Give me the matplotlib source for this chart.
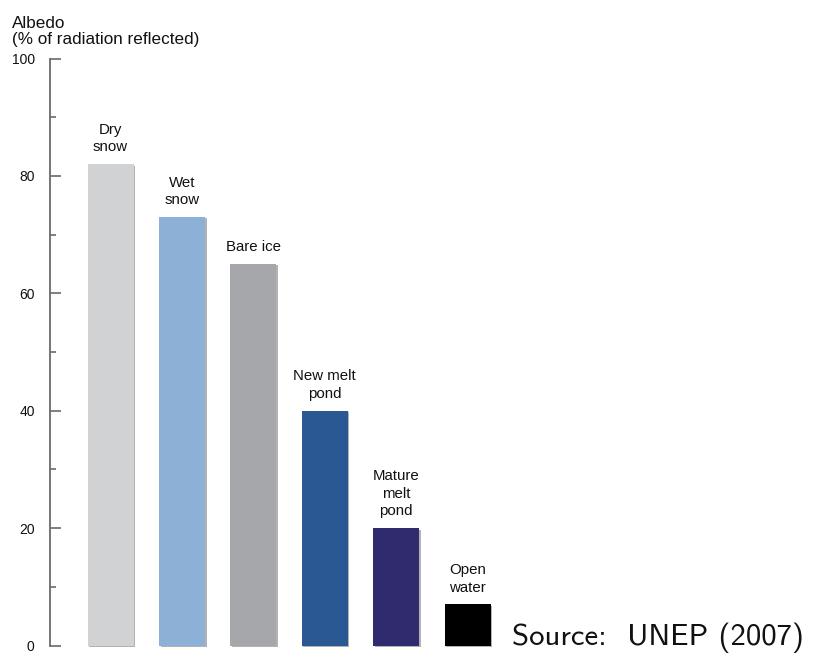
import matplotlib
matplotlib.use("Agg")
import matplotlib.pyplot as plt
from matplotlib.ticker import MultipleLocator

# Surface types and their albedo (% of radiation reflected)
surfaces = ["Dry\nsnow", "Wet\nsnow", "Bare ice", "New melt\npond", "Mature\nmelt\npond", "Open\nwater"]
albedo = [82, 73, 65, 40, 20, 7]
colors = ["#d1d2d4", "#8cb0d6", "#a6a7ab", "#2a5892", "#302a6e", "#000000"]
y_ticks = [0, 20, 40, 60, 80, 100]

W, H = 814, 654
fig = plt.figure(figsize=(W / 100, H / 100), dpi=100)

# axes box in pixel terms: left spine at x=50, y from 645.5 (0) to 58.5 (100)
left_px, right_px = 50, 814
bottom_px, top_px = 645.5, 58.5
ax = fig.add_axes([left_px / W, 1 - bottom_px / H,
                   (right_px - left_px) / W, (bottom_px - top_px) / H])

step = 71.4
first_center = 110.5
ax.set_xlim((left_px - first_center) / step, (right_px - first_center) / step)
ax.set_ylim(0, 100)

xs = list(range(len(albedo)))
bw = 46 / step
# soft shadow on right/bottom edges
ax.bar([x + 0.025 for x in xs], albedo, width=bw, bottom=-0.25, color="#555555",
       alpha=0.45, zorder=1, clip_on=False)
ax.bar(xs, albedo, width=bw, color=colors, zorder=2)

label_font = ["Liberation Sans", "DejaVu Sans"]
for x, v, name in zip(xs, albedo, surfaces):
    ax.annotate(name, (x, v), xytext=(0, 7), textcoords="offset points",
                ha="center", va="bottom", fontsize=10.8, linespacing=1.32,
                family=label_font, color="#111111")

for s in ["top", "right", "bottom"]:
    ax.spines[s].set_visible(False)
ax.spines["left"].set_color("#6a6a6a")
ax.spines["left"].set_linewidth(1.3)
ax.set_xticks([])
ax.set_yticks(y_ticks)
ax.yaxis.set_minor_locator(MultipleLocator(10))
ax.tick_params(axis="y", which="major", direction="in", length=8, width=1.2,
               color="#6a6a6a", pad=11, labelsize=10, labelcolor="#111111")
ax.tick_params(axis="y", which="minor", direction="in", length=4, width=1.2,
               color="#6a6a6a")
for lab in ax.get_yticklabels():
    lab.set_family(label_font)

fig.text(12 / W, 1 - 44 / H, "Albedo\n(% of radiation reflected)", ha="left",
         va="baseline", fontsize=12.3, family=label_font, linespacing=1.05,
         color="#111111")

fig.text(512 / W, 1 - 645 / H, "Source:  UNEP (2007)", ha="left", va="baseline",
         fontsize=22.2, family=["cmss10", "DejaVu Sans"], color="#111111")

fig.savefig("out.png", dpi=100)
